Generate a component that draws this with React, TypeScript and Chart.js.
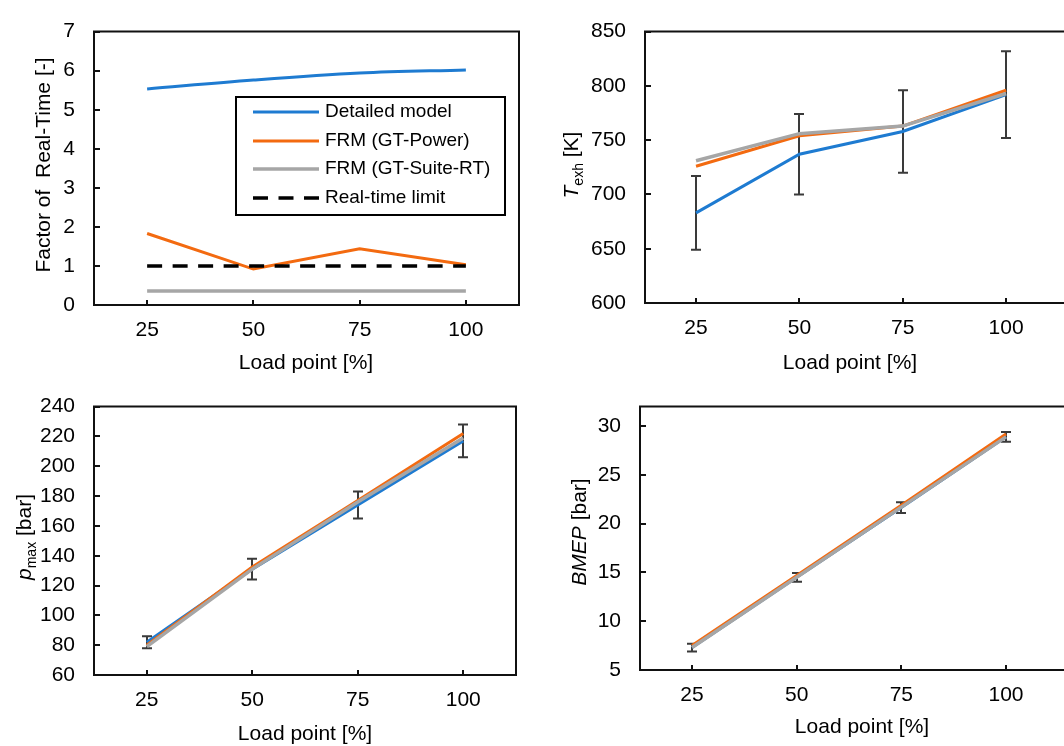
import React, { useEffect, useRef } from "react";
import { Chart, registerables } from "chart.js";

Chart.register(...registerables);

// ---------- data ----------
const loadPoints = [25, 50, 75, 100];

// Panel 1: factor of real-time
const rtDetailed = [5.53, 5.76, 5.94, 6.02];
const rtFrmPower = [1.83, 0.92, 1.44, 1.03];
const rtFrmSuite = [0.36, 0.36, 0.36, 0.36];
const rtLimit = [1, 1, 1, 1];
const rtTicks = [0, 1, 2, 3, 4, 5, 6, 7];

// Panel 2: exhaust temperature
const texhDetailed = [683, 737, 758, 792];
const texhFrmPower = [726, 754, 763, 796];
const texhFrmSuite = [731, 756, 763, 793];
const texhError = [34, 37, 38, 40];
const texhTicks = [600, 650, 700, 750, 800, 850];

// Panel 3: peak pressure
const pmaxDetailed = [82, 131, 174, 217];
const pmaxFrmPower = [80, 132.5, 177, 222];
const pmaxFrmSuite = [79, 131, 176, 219];
const pmaxError = [4, 7, 9, 11];
const pmaxTicks = [60, 80, 100, 120, 140, 160, 180, 200, 220, 240];

// Panel 4: BMEP
const bmepDetailed = [7.3, 14.5, 21.65, 28.9];
const bmepFrmPower = [7.5, 14.7, 21.9, 29.2];
const bmepFrmSuite = [7.3, 14.5, 21.7, 28.9];
const bmepError = [0.4, 0.45, 0.55, 0.5];
const bmepTicks = [5, 10, 15, 20, 25, 30];

const labels = ["Detailed model", "FRM (GT-Power)", "FRM (GT-Suite-RT)", "Real-time limit"];
const xTitle = "Load point [%]";

// ---------- styles ----------
const FONT = "'Liberation Sans', Arial, sans-serif";
const BLUE = "#1E7BD1";
const ORANGE = "#F36A10";
const GRAY = "#A6A6A6";
const BLACK = "#000000";
const ERR = "#3a3a3a";
const FRAME = "#111111";

type Seg = { text: string; italic?: boolean; sub?: boolean };
type Series = { label: string; data: number[]; color: string; width: number; dash?: number[]; tension?: number; order: number };
type Panel = {
  left: number; top: number; width: number; height: number;
  area: { l: number; t: number; r: number; b: number };
  xMin: number; xMax: number; yMin: number; yMax: number; yTicks: number[];
  series: Series[];
  errorBase?: number[]; errors?: number[];
  yTitle: Seg[]; yTitleX: number; yTitleY: number;
  xTitleX: number; xTitleY: number;
  rightBorder: boolean;
  legend?: boolean;
};

const mk = (d: number[], p: number[], s: number[]): Series[] => [
  { label: labels[0], data: d, color: BLUE, width: 3, order: 3 },
  { label: labels[1], data: p, color: ORANGE, width: 3, order: 2 },
  { label: labels[2], data: s, color: GRAY, width: 3.5, order: 1 },
];

const panels: Panel[] = [
  {
    left: 0, top: 0, width: 532, height: 375,
    area: { l: 94, t: 23, r: 519, b: 305 },
    xMin: 12.5, xMax: 112.5, yMin: 0, yMax: 7, yTicks: rtTicks,
    series: [
      { label: labels[0], data: rtDetailed, color: BLUE, width: 3, tension: 0.35, order: 3 },
      { label: labels[1], data: rtFrmPower, color: ORANGE, width: 3, order: 2 },
      { label: labels[2], data: rtFrmSuite, color: GRAY, width: 3.5, order: 1 },
      { label: labels[3], data: rtLimit, color: BLACK, width: 3.5, dash: [15, 10.5], order: 0 },
    ],
    yTitle: [{ text: "Factor of  Real-Time [-]" }], yTitleX: 44, yTitleY: 165,
    xTitleX: 306, xTitleY: 363, rightBorder: true, legend: true,
  },
  {
    left: 532, top: 0, width: 532, height: 375,
    area: { l: 113, t: 19, r: 532, b: 303 },
    xMin: 12.66, xMax: 114.0, yMin: 600, yMax: 850, yTicks: texhTicks,
    series: mk(texhDetailed, texhFrmPower, texhFrmSuite),
    errorBase: texhDetailed, errors: texhError,
    yTitle: [{ text: "T", italic: true }, { text: "exh", sub: true }, { text: " [K]" }], yTitleX: 40, yTitleY: 165,
    xTitleX: 318, xTitleY: 363, rightBorder: false,
  },
  {
    left: 0, top: 375, width: 532, height: 371,
    area: { l: 94, t: 21, r: 516, b: 300 },
    xMin: 12.5, xMax: 112.5, yMin: 60, yMax: 240, yTicks: pmaxTicks,
    series: mk(pmaxDetailed, pmaxFrmPower, pmaxFrmSuite),
    errorBase: pmaxDetailed, errors: pmaxError,
    yTitle: [{ text: "p", italic: true }, { text: "max", sub: true }, { text: " [bar]" }], yTitleX: 25, yTitleY: 162,
    xTitleX: 305, xTitleY: 359, rightBorder: true,
  },
  {
    left: 532, top: 375, width: 532, height: 371,
    area: { l: 108, t: 18, r: 532, b: 295 },
    xMin: 12.58, xMax: 113.85, yMin: 5, yMax: 32, yTicks: bmepTicks,
    series: mk(bmepDetailed, bmepFrmPower, bmepFrmSuite),
    errorBase: bmepDetailed, errors: bmepError,
    yTitle: [{ text: "BMEP", italic: true }, { text: " [bar]" }], yTitleX: 48, yTitleY: 157,
    xTitleX: 330, xTitleY: 352, rightBorder: false,
  },
];

function makePlugin(p: Panel) {
  return {
    id: "decor",
    beforeDatasetsDraw(chart: any) {
      if (!p.errors || !p.errorBase) return;
      const ctx = chart.ctx;
      const xs = chart.scales.x;
      const ys = chart.scales.y;
      ctx.save();
      ctx.strokeStyle = ERR;
      ctx.lineWidth = 2;
      p.errors.forEach((e, i) => {
        const x = Math.round(xs.getPixelForValue(loadPoints[i]));
        const y1 = ys.getPixelForValue(p.errorBase![i] + e);
        const y2 = ys.getPixelForValue(p.errorBase![i] - e);
        ctx.beginPath();
        ctx.moveTo(x, y1); ctx.lineTo(x, y2);
        ctx.moveTo(x - 5, y1); ctx.lineTo(x + 5, y1);
        ctx.moveTo(x - 5, y2); ctx.lineTo(x + 5, y2);
        ctx.stroke();
      });
      ctx.restore();
    },
    afterDraw(chart: any) {
      const ctx = chart.ctx;
      const { left: l, top: t, right: r, bottom: b } = chart.chartArea;
      const xs = chart.scales.x;
      const ys = chart.scales.y;
      ctx.save();
      // frame
      ctx.strokeStyle = FRAME;
      ctx.lineWidth = 2;
      ctx.beginPath();
      ctx.moveTo(r, t); ctx.lineTo(l, t); ctx.lineTo(l, b); ctx.lineTo(r, b);
      if (p.rightBorder) ctx.closePath();
      ctx.stroke();
      // inward tick marks
      ctx.beginPath();
      loadPoints.forEach((v) => {
        const x = Math.round(xs.getPixelForValue(v));
        ctx.moveTo(x, b); ctx.lineTo(x, b - 5);
      });
      p.yTicks.forEach((v) => {
        const y = Math.round(ys.getPixelForValue(v));
        ctx.moveTo(l, y); ctx.lineTo(l + 6, y);
      });
      ctx.stroke();

      // x title
      ctx.fillStyle = BLACK;
      ctx.font = `21px ${FONT}`;
      ctx.textAlign = "center";
      ctx.textBaseline = "middle";
      ctx.fillText(xTitle, p.xTitleX, p.xTitleY);

      // y title (rotated, rich)
      const fontOf = (s: Seg) => `${s.italic ? "italic " : ""}${s.sub ? 14 : 21}px ${FONT}`;
      let total = 0;
      p.yTitle.forEach((s) => { ctx.font = fontOf(s); total += ctx.measureText(s.text).width; });
      ctx.translate(p.yTitleX, p.yTitleY);
      ctx.rotate(-Math.PI / 2);
      ctx.textAlign = "left";
      ctx.textBaseline = "alphabetic";
      let cx = -total / 2;
      p.yTitle.forEach((s) => {
        ctx.font = fontOf(s);
        ctx.fillText(s.text, cx, s.sub ? 11 : 6);
        cx += ctx.measureText(s.text).width;
      });
      ctx.setTransform(1, 0, 0, 1, 0, 0);

      // legend
      if (p.legend) {
        const bx = 236, by = 97, bw = 269, bh = 118;
        ctx.fillStyle = "#ffffff";
        ctx.fillRect(bx, by, bw, bh);
        ctx.strokeStyle = BLACK;
        ctx.lineWidth = 2;
        ctx.strokeRect(bx, by, bw, bh);
        const rows = [112, 141, 169, 198];
        chart.data.datasets.forEach((ds: any, i: number) => {
          const y = rows[i];
          ctx.beginPath();
          ctx.strokeStyle = ds.borderColor;
          ctx.lineWidth = ds.borderWidth;
          ctx.setLineDash(ds.borderDash || []);
          ctx.moveTo(253, y); ctx.lineTo(319, y);
          ctx.stroke();
          ctx.setLineDash([]);
          ctx.fillStyle = BLACK;
          ctx.font = `19px ${FONT}`;
          ctx.textAlign = "left";
          ctx.textBaseline = "middle";
          ctx.fillText(ds.label, 325, y);
        });
      }
      ctx.restore();
    },
  };
}

function PanelChart({ p }: { p: Panel }) {
  const ref = useRef<HTMLCanvasElement>(null);
  useEffect(() => {
    const tickFont = { family: FONT, size: 21 };
    const chart = new Chart(ref.current as HTMLCanvasElement, {
      type: "line",
      data: {
        datasets: p.series.map((s) => ({
          label: s.label,
          data: loadPoints.map((x, i) => ({ x, y: s.data[i] })),
          borderColor: s.color,
          backgroundColor: s.color,
          borderWidth: s.width,
          borderDash: s.dash || [],
          borderCapStyle: "butt",
          tension: s.tension || 0,
          pointRadius: 0,
          fill: false,
          order: s.order,
        })),
      },
      options: {
        responsive: false,
        animation: false,
        devicePixelRatio: 1,
        events: [],
        layout: { padding: { top: p.area.t, right: p.width - p.area.r, left: 0, bottom: 0 } },
        plugins: { legend: { display: false }, tooltip: { enabled: false } },
        scales: {
          x: {
            type: "linear",
            min: p.xMin,
            max: p.xMax,
            afterBuildTicks: (s: any) => { s.ticks = loadPoints.map((v) => ({ value: v })); },
            afterFit: (s: any) => { s.height = p.height - p.area.b; },
            grid: { display: false, drawTicks: false },
            border: { display: false },
            ticks: { font: tickFont, color: BLACK, padding: 13, maxRotation: 0, autoSkip: false },
          },
          y: {
            type: "linear",
            min: p.yMin,
            max: p.yMax,
            afterBuildTicks: (s: any) => { s.ticks = p.yTicks.map((v) => ({ value: v })); },
            afterFit: (s: any) => { s.width = p.area.l; },
            grid: { display: false, drawTicks: false },
            border: { display: false },
            ticks: { font: tickFont, color: BLACK, padding: 19, autoSkip: false },
          },
        },
      } as any,
      plugins: [makePlugin(p)],
    });
    return () => chart.destroy();
  }, []);
  return (
    <canvas
      ref={ref}
      width={p.width}
      height={p.height}
      style={{ position: "absolute", left: p.left, top: p.top, width: p.width, height: p.height }}
    />
  );
}

export default function App() {
  return (
    <div style={{ position: "absolute", left: 0, top: 0, width: 1064, height: 746, overflow: "hidden", background: "#fff" }}>
      {panels.map((p, i) => (
        <PanelChart key={i} p={p} />
      ))}
    </div>
  );
}
